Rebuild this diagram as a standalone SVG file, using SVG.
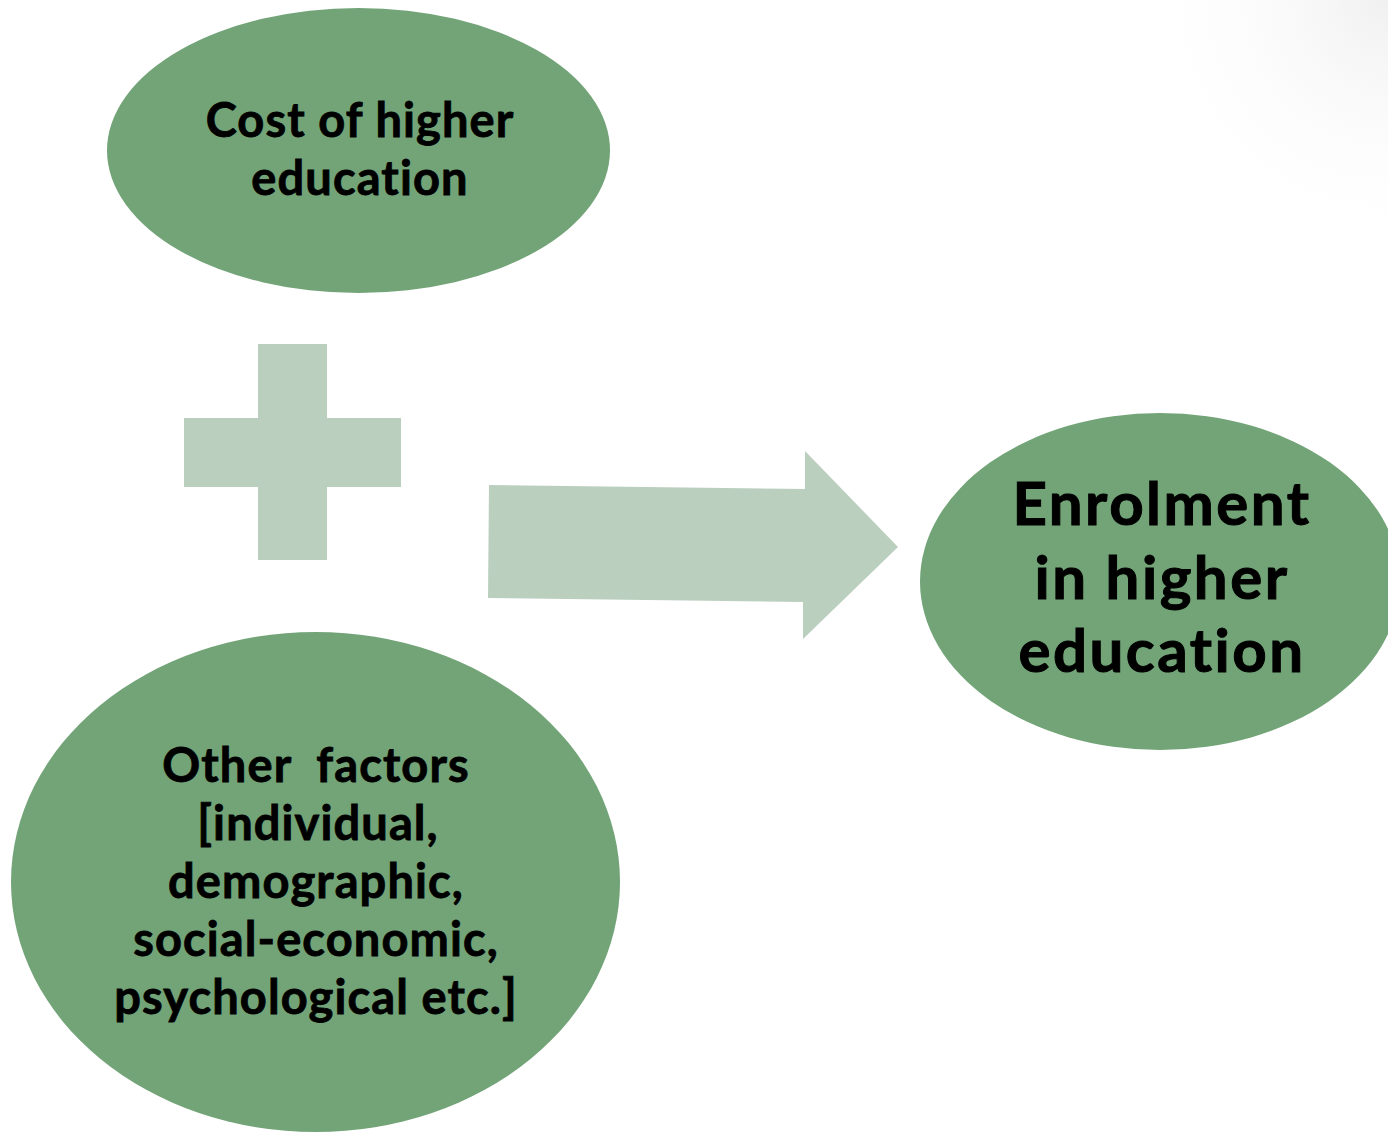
<svg xmlns="http://www.w3.org/2000/svg" width="1388" height="1132" viewBox="0 0 1388 1132">
<style>
.node{fill:#72A478}
.shape{fill:#BBCFBF}
text{font-family:Lato,"Liberation Sans",sans-serif;font-weight:bold;fill:#000;stroke:#000;stroke-width:0.8px;text-anchor:middle;font-variant-ligatures:none}
.s{font-size:47px;letter-spacing:1.1px}
.l{font-size:60px;letter-spacing:2.5px;stroke-width:1px}
</style>
<defs>
<radialGradient id="shade" cx="1388" cy="0" r="260" gradientUnits="userSpaceOnUse">
<stop offset="0" stop-color="#e6e6e6" stop-opacity="0.6"/>
<stop offset="1" stop-color="#ffffff" stop-opacity="0"/>
</radialGradient>
</defs>
<rect width="1388" height="1132" fill="#fff"/>
<rect x="1128" y="0" width="260" height="260" fill="url(#shade)"/>
<g id="connectors">
<polygon class="shape" points="489,485 805,489 805,451 898,547 803,639 803,602 488,598"/>
</g>
<g id="plus">
<rect class="shape" x="258" y="344" width="69" height="216"/>
<rect class="shape" x="184" y="418" width="217" height="69"/>
</g>
<g id="cost">
<ellipse class="node" cx="358.5" cy="150.5" rx="251.5" ry="142.5"/>
<text class="s" x="360" y="137">Cost of higher</text>
<text class="s" x="360" y="195">education</text>
</g>
<g id="other">
<ellipse class="node" cx="315.5" cy="882" rx="304.5" ry="250"/>
<text class="s" x="316" y="782" xml:space="preserve">Other  factors</text>
<text class="s" x="318" y="840">[individual,</text>
<text class="s" x="316" y="898">demographic,</text>
<text class="s" x="316" y="956">social-economic,</text>
<text class="s" x="316" y="1014">psychological etc.]</text>
</g>
<g id="enrolment">
<ellipse class="node" cx="1160" cy="581.5" rx="240" ry="168.5"/>
<text class="l" x="1162" y="525">Enrolment</text>
<text class="l" x="1162" y="599">in higher</text>
<text class="l" x="1162" y="672">education</text>
</g>
</svg>
